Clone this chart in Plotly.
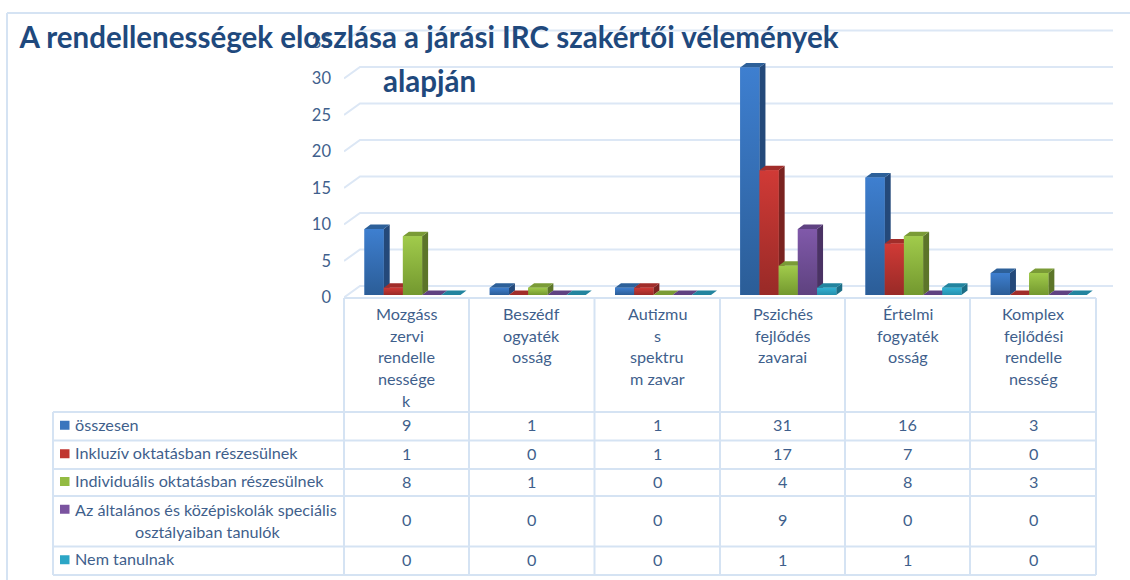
import plotly.graph_objects as go

W, H = 1130, 580

# ---------- data ----------
categories = [
    ["Mozgáss", "zervi", "rendelle", "nessége", "k"],
    ["Beszédf", "ogyaték", "osság"],
    ["Autizmu", "s", "spektru", "m zavar"],
    ["Pszichés", "fejlődés", "zavarai"],
    ["Értelmi", "fogyaték", "osság"],
    ["Komplex", "fejlődési", "rendelle", "nesség"],
]
series_names = [
    ["összesen"],
    ["Inkluzív oktatásban részesülnek"],
    ["Individuális oktatásban részesülnek"],
    ["Az általános és középiskolák speciális", "osztályaiban tanulók"],
    ["Nem tanulnak"],
]
osszesen = [9, 1, 1, 31, 16, 3]
inkluziv = [1, 0, 1, 17, 7, 0]
individualis = [8, 1, 0, 4, 8, 3]
specialis = [0, 0, 0, 9, 0, 0]
nem_tanul = [0, 0, 0, 1, 1, 0]
series_values = [osszesen, inkluziv, individualis, specialis, nem_tanul]
y_ticks = [0, 5, 10, 15, 20, 25, 30, 35]
title_line1 = "A rendellenességek eloszlása a járási IRC szakértői vélemények"
title_line2 = "alapján"

# ---------- style ----------
grad_top = ["#3e7fd0", "#d03a36", "#a1cb4b", "#8059aa", "#31b2d4"]
grad_bot = ["#2b5d97", "#982a27", "#73982f", "#5e427f", "#2590ae"]
top_col = ["#2d6099", "#a12d2a", "#7a9b36", "#5f4282", "#22849f"]
side_col = ["#24497a", "#7a2320", "#5c7529", "#4a3264", "#1c6e86"]
key_col = ["#3a75bd", "#c0352f", "#93bb42", "#7a539f", "#2ca6c6"]
TEXT = "#3f5f8c"
GRID = "#dce7f5"
LINE = "#d5e3f3"
FONT = "Lato"

PX_CAT = 125.25      # pixels per category
PX_UNIT = 7.34       # pixels per value unit (bars)
X0_PX = 412.5        # pixel of the first category centre
BAR_FLOOR = 295.0
AXIS_FLOOR = 297.5
AXIS_UNIT = 7.3
X_L, X_R = 344.0, 1113.0
TOP_AXIS = 37
AXIS_TOP_PX = AXIS_FLOOR - TOP_AXIS * AXIS_UNIT

def px_to_x(p):
    return (p - X0_PX) / PX_CAT

def pxx(p):
    return p / W

def pxy(p):
    return 1 - p / H

fig = go.Figure()

# ---------- grid (front edge -> back wall) ----------
wall_dx = 16 / PX_CAT
wall_dy = 11.5 / AXIS_UNIT
for v in y_ticks:
    fig.add_trace(go.Scatter(
        x=[px_to_x(X_L), px_to_x(X_L) + wall_dx, px_to_x(X_R)],
        y=[v, v + wall_dy, v + wall_dy],
        mode="lines", line=dict(color=GRID, width=2),
        xaxis="x", yaxis="y", hoverinfo="skip", showlegend=False))

# ---------- bars ----------
BAR_W = 19.2 / PX_CAT
for s, vals in enumerate(series_values):
    fig.add_trace(go.Bar(
        x=list(range(len(vals))), y=vals, name=" ".join(series_names[s]),
        marker=dict(color=key_col[s], line=dict(width=0)),
        xaxis="x", yaxis="y2", showlegend=False))

DX = 6 / PX_CAT
DV = 4.5 / PX_UNIT
for c in range(len(categories)):
    for s, vals in enumerate(series_values):
        v = vals[c]
        x0 = c + (s - 2.5) * BAR_W
        x1 = x0 + BAR_W
        if v > 0:
            fig.add_trace(go.Scatter(
                x=[x1, x1 + DX, x1 + DX, x1, x1], y=[0, DV, v + DV, v, 0],
                mode="lines", line=dict(width=0), fill="toself", fillcolor=side_col[s],
                xaxis="x", yaxis="y2", hoverinfo="skip", showlegend=False))
        fig.add_trace(go.Scatter(
            x=[x0, x1, x1 + DX, x0 + DX, x0], y=[v, v, v + DV, v + DV, v],
            mode="lines", line=dict(width=0), fill="toself", fillcolor=top_col[s],
            xaxis="x", yaxis="y2", hoverinfo="skip", showlegend=False))
        if v > 0:
            fig.add_trace(go.Scatter(
                x=[x0, x1, x1, x0, x0], y=[0, 0, v, v, 0],
                mode="lines", line=dict(width=0), fill="toself",
                fillgradient=dict(type="vertical",
                                  colorscale=[[0, grad_bot[s]], [1, grad_top[s]]]),
                xaxis="x", yaxis="y2", hoverinfo="skip", showlegend=False))

# ---------- table ----------
col_x = [344, 469, 594.5, 720, 845, 970, 1096]
row_y = [412, 440.5, 469, 496, 546.5, 575]
TABLE_L = 53
shapes = []
def seg(x0, y0, x1, y1):
    shapes.append(dict(type="line", xref="paper", yref="paper",
                       x0=pxx(x0), y0=pxy(y0), x1=pxx(x1), y1=pxy(y1),
                       line=dict(color=LINE, width=2), layer="below"))
seg(col_x[0], 298, col_x[-1], 298)
for x in col_x:
    seg(x, 298, x, row_y[-1])
seg(TABLE_L, row_y[0], TABLE_L, row_y[-1])
for y in row_y:
    seg(TABLE_L, y, col_x[-1], y)
# outer frame, top edge and left edge
seg(7, 13, W, 13)
seg(7, 13, 7, H)

ann = []
def text(xp, yp, t, size=16.2, color=TEXT, anchor="center", bold=False):
    ann.append(dict(xref="paper", yref="paper", x=pxx(xp), y=pxy(yp), text=f"<b>{t}</b>" if bold else t,
                    showarrow=False, xanchor=anchor, yanchor="middle",
                    font=dict(family=FONT, size=size, color=color)))

# category headers
for c, lines in enumerate(categories):
    cx = (col_x[c] + col_x[c + 1]) / 2
    for i, line in enumerate(lines):
        text(cx, 313.5 + i * 21.7, line)

# legend rows and values
for s, names in enumerate(series_names):
    yc = (row_y[s] + row_y[s + 1]) / 2
    key_y = yc - 1 if len(names) == 1 else yc - 12
    shapes.append(dict(type="rect", xref="paper", yref="paper",
                       x0=pxx(60), x1=pxx(69.5), y0=pxy(key_y - 4.5), y1=pxy(key_y + 4.5),
                       fillcolor=key_col[s], line=dict(width=0), layer="above"))
    if len(names) == 1:
        text(72.5, yc - 2, names[0], anchor="left")
    else:
        text(72.5, yc - 12, names[0], anchor="left")
        text(207, yc + 10, names[1])
    for c in range(len(categories)):
        cx = (col_x[c] + col_x[c + 1]) / 2
        text(cx, yc - 1.5, str(series_values[s][c]))

# second title line
text(429, 80, title_line2, size=29.5, color="#1f497d", bold=True)

fig.update_layout(
    width=W, height=H, margin=dict(l=0, r=0, t=0, b=0, autoexpand=False),
    paper_bgcolor="white", plot_bgcolor="rgba(0,0,0,0)",
    barmode="group", bargap=1 - 5 * BAR_W, bargroupgap=0,
    title=dict(text=f"<b>{title_line1}</b>", x=429 / W, xanchor="center", xref="paper",
               y=pxy(37.5), yanchor="middle", yref="paper",
               font=dict(family=FONT, size=29.5, color="#1f497d")),
    xaxis=dict(domain=[pxx(X_L), pxx(X_R)], range=[px_to_x(X_L), px_to_x(X_R)],
               visible=False, fixedrange=True, automargin=False),
    yaxis=dict(domain=[pxy(AXIS_FLOOR), pxy(AXIS_TOP_PX)], automargin=False,
               range=[0, TOP_AXIS], tickvals=y_ticks, showgrid=False, zeroline=False,
               showline=False, ticks="", ticklabelstandoff=12,
               tickfont=dict(family=FONT, size=16.5, color=TEXT), fixedrange=True),
    # an overlaying axis shares the base axis's pixel span, so its range is fitted to that span
    yaxis2=dict(range=[-(AXIS_FLOOR - BAR_FLOOR) / PX_UNIT, (BAR_FLOOR - AXIS_TOP_PX) / PX_UNIT],
                overlaying="y", anchor="x", visible=False, fixedrange=True, automargin=False),
    shapes=shapes, annotations=ann,
)
fig.write_html("out.html", post_script="document.body.style.margin='0';document.documentElement.style.overflow='hidden';",
               config=dict(displayModeBar=False))
